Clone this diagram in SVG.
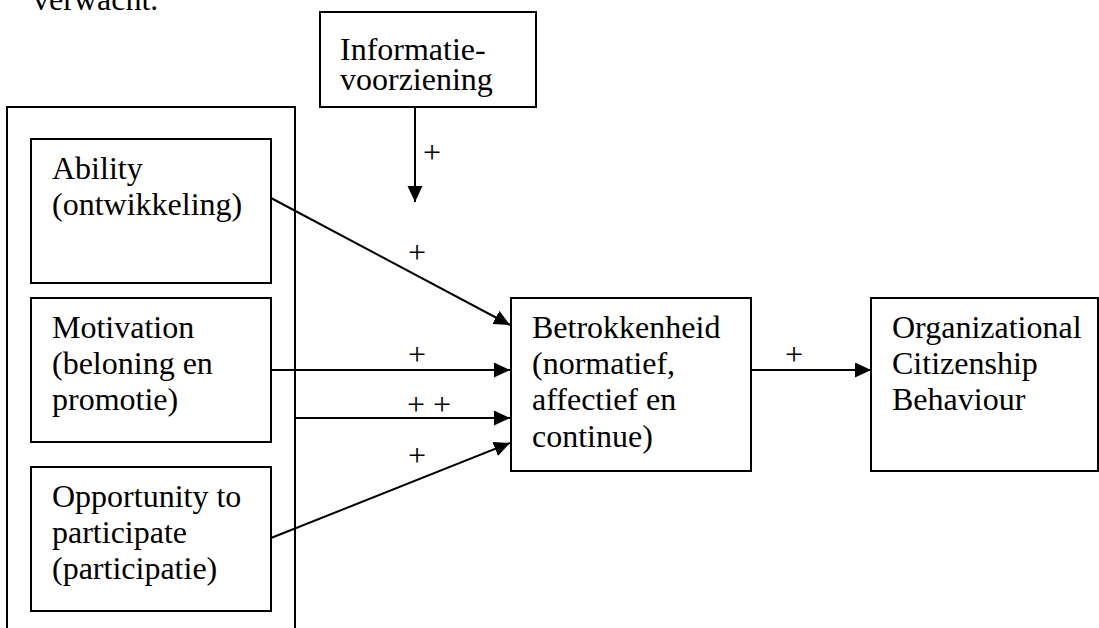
<svg xmlns="http://www.w3.org/2000/svg" width="1099" height="628" viewBox="0 0 1099 628">
<style>
.box{fill:#fff;stroke:#000;stroke-width:2}
.t{font-family:"Liberation Serif","Times New Roman",serif;font-size:32px;fill:#000}
.lbl{font-family:"Liberation Serif","Times New Roman",serif;font-size:32px;fill:#000;text-anchor:middle}
.c{stroke:#000;stroke-width:2;fill:none;marker-end:url(#ah)}
</style>
<defs>
<marker id="ah" markerUnits="userSpaceOnUse" markerWidth="18" markerHeight="16" refX="16" refY="7.5" orient="auto">
<path d="M0,0 L16,7.5 L0,15 Z" fill="#000"/>
</marker>
</defs>
<rect width="1099" height="628" fill="#fff"/>
<text class="t" x="33" y="10">verwacht.</text>
<g id="outer">
<path d="M7,630 V107 H295 V630" fill="none" stroke="#000" stroke-width="2"/>
</g>
<g id="informatie">
<rect class="box" x="320" y="12" width="216" height="95"/>
<text class="t" x="340" y="60">Informatie-</text>
<text class="t" x="340" y="90">voorziening</text>
</g>
<g id="ability">
<rect class="box" x="31" y="139" width="240" height="144"/>
<text class="t" x="52" y="179">Ability</text>
<text class="t" x="52" y="215">(ontwikkeling)</text>
</g>
<g id="motivation">
<rect class="box" x="31" y="298" width="240" height="144"/>
<text class="t" x="52" y="338">Motivation</text>
<text class="t" x="52" y="374">(beloning en</text>
<text class="t" x="52" y="410">promotie)</text>
</g>
<g id="opportunity">
<rect class="box" x="31" y="467" width="240" height="144"/>
<text class="t" x="52" y="507">Opportunity to</text>
<text class="t" x="52" y="543">participate</text>
<text class="t" x="52" y="579">(participatie)</text>
</g>
<g id="betrokkenheid">
<rect class="box" x="511" y="298" width="240" height="173"/>
<text class="t" x="532" y="338">Betrokkenheid</text>
<text class="t" x="532" y="374">(normatief,</text>
<text class="t" x="532" y="410">affectief en</text>
<text class="t" x="532" y="447">continue)</text>
</g>
<g id="ocb">
<rect class="box" x="871" y="298" width="227" height="173"/>
<text class="t" x="892" y="338">Organizational</text>
<text class="t" x="892" y="374">Citizenship</text>
<text class="t" x="892" y="410">Behaviour</text>
</g>
<g id="connectors">
<line class="c" x1="415" y1="107" x2="415" y2="202"/>
<line class="c" x1="271" y1="198" x2="510" y2="325"/>
<line class="c" x1="271" y1="370" x2="510" y2="370"/>
<line class="c" x1="295" y1="418" x2="510" y2="418"/>
<line class="c" x1="271" y1="538" x2="510" y2="443"/>
<line class="c" x1="751" y1="370" x2="871" y2="370"/>
<text class="lbl" x="432" y="163">+</text>
<text class="lbl" x="417" y="263">+</text>
<text class="lbl" x="417" y="365">+</text>
<text class="lbl" x="429" y="415">+ +</text>
<text class="lbl" x="417" y="466">+</text>
<text class="lbl" x="794" y="365">+</text>
</g>
</svg>
